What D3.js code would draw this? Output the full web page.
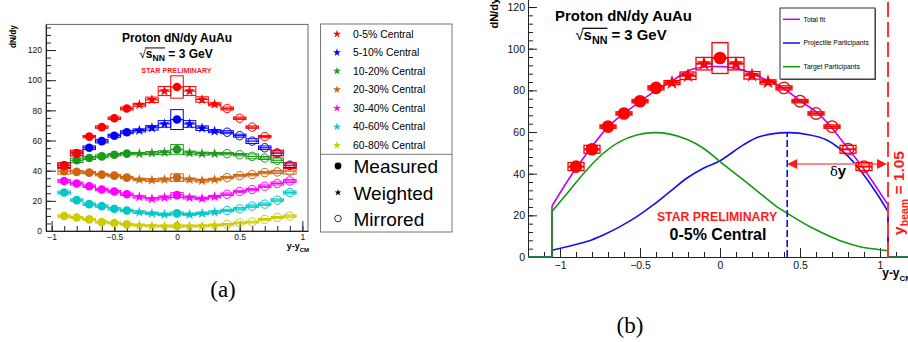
<!DOCTYPE html>
<html>
<head>
<meta charset="utf-8">
<script src="https://cdn.jsdelivr.net/npm/d3@7"></script>
<style>
  body { margin: 0; background: #fff; }
  svg { display: block; font-family: "Liberation Sans", Arial, Helvetica, sans-serif; }
</style>
</head>
<body>
<svg id="chart" width="908" height="342"></svg>
<script>
// ---- data ----
const rapidity = [-0.9, -0.8, -0.7, -0.6, -0.5, -0.4, -0.3, -0.2, -0.1, 0, 0.1, 0.2, 0.3, 0.4, 0.5, 0.6, 0.7, 0.8, 0.9]
// M = measured, W = weighted, R = mirrored
const pointKind = ["M", "M", "M", "M", "M", "M", "W", "W", "W", "M", "W", "W", "W", "R", "R", "R", "R", "R", "R"]
const binHalfWidth = 0.05

const centralityLabels = ["0-5% Central", "5-10% Central", "10-20% Central", "20-30% Central", "30-40% Central", "40-60% Central", "60-80% Central"]

const dndy_0_5   = [43.4, 51.7, 62.6, 68.9, 74.8, 81.2, 83.7, 87.0, 92.8, 95.5, 92.8, 87.2, 84.0, 81.2, 74.8, 68.9, 62.6, 51.7, 43.4]
const dndy_5_10  = [43.6, 51.6, 55.2, 59.6, 63.2, 65.5, 66.7, 68.4, 71.0, 73.9, 71.0, 68.2, 66.2, 65.5, 63.2, 59.6, 55.2, 51.6, 43.6]
const dndy_10_20 = [null, 46.9, 48.4, 49.5, 50.6, 51.3, 51.3, 51.7, 52.0, 54.1, 51.8, 51.3, 51.3, 51.3, 50.6, 49.5, 48.4, 46.9, null]
const dndy_20_30 = [39.7, 39.2, 38.7, 37.4, 36.7, 35.4, 34.1, 33.7, 34.1, 35.4, 34.1, 33.4, 34.1, 35.4, 36.7, 37.4, 38.7, 39.2, 39.7]
const dndy_30_40 = [33.2, 31.5, 29.7, 27.5, 26.2, 24.4, 22.6, 21.3, 22.2, 23.8, 22.2, 21.5, 22.8, 24.4, 26.2, 27.5, 29.7, 31.5, 33.2]
const dndy_40_60 = [25.5, 20.5, 17.8, 16.5, 14.7, 13.6, 12.5, 11.7, 11.0, 11.7, 11.0, 11.7, 12.5, 13.6, 14.7, 16.5, 17.8, 20.5, 25.5]
const dndy_60_80 = [9.9, 9.0, 7.7, 5.9, 5.3, 4.4, 3.8, 3.3, 3.2, 3.3, 3.2, 3.3, 3.8, 4.4, 5.3, 5.9, 7.7, 9.0, 9.9]

// systematic uncertainties (box half heights)
const sys_0_5   = [1.9, 1.9, 0.8, 0.8, 0.8, 1.0, 1.0, 1.8, 3.0, 7.4, 3.0, 1.8, 1.0, 1.0, 0.8, 0.8, 0.8, 1.9, 1.9]
const sys_5_10  = [1.5, 1.5, 1.2, 1.2, 1.0, 1.0, 1.0, 1.5, 2.2, 6.6, 2.2, 1.5, 1.0, 1.0, 1.0, 1.6, 1.2, 1.5, 1.5]
const sys_10_20 = [null, 1.5, 1.0, 1.0, 0.8, 0.8, 0.8, 1.0, 1.2, 3.2, 1.2, 1.0, 0.8, 0.8, 0.8, 1.6, 1.0, 1.5, null]
const sys_20_30 = [2.0, 1.0, 0.8, 0.8, 0.8, 0.8, 0.8, 1.0, 1.0, 2.5, 1.0, 1.0, 0.8, 0.8, 0.8, 0.8, 0.8, 1.0, 2.0]
const sys_30_40 = [1.0, 1.0, 0.8, 0.8, 0.8, 0.8, 0.8, 0.8, 1.0, 1.6, 1.0, 0.8, 0.8, 0.8, 0.8, 0.8, 0.8, 1.0, 1.0]
const sys_40_60 = [1.0, 0.8, 0.8, 0.8, 0.8, 0.8, 0.8, 0.8, 0.8, 1.0, 0.8, 0.8, 0.8, 0.8, 0.8, 0.8, 0.8, 0.8, 1.0]
const sys_60_80 = [0.8, 0.6, 0.6, 0.6, 0.6, 0.6, 0.6, 0.6, 0.6, 0.8, 0.6, 0.6, 0.6, 0.6, 0.6, 0.6, 0.6, 0.6, 0.8]

// fit curves of panel (b), 0-5%
const totalFitY = [-1.05, -0.9375, -0.833, -0.698, -0.594, -0.5, -0.396, -0.29, -0.1875, 0.02, 0.146, 0.29, 0.396, 0.5, 0.604, 0.6875, 0.79, 0.896, 1.05]
const totalFitV = [24.5, 38.3, 49.7, 62.6, 69.3, 74.6, 80.2, 85.0, 89.8, 91.4, 89.6, 85.0, 81.0, 75.0, 69.5, 63.0, 53.0, 42.6, 25.0]
const projFitY = [-1.05, -0.9375, -0.833, -0.729, -0.625, -0.52, -0.417, -0.3125, -0.208, -0.104, 0, 0.146, 0.25, 0.42, 0.5625, 0.667, 0.77, 0.875, 0.979, 1.05]
const projFitV = [3.2, 5.3, 7.4, 10.6, 14.6, 19.4, 25.0, 31.4, 37.8, 42.6, 46.2, 53.8, 57.8, 59.7, 58.6, 56.2, 50.6, 41.8, 30.6, 21.8]
const targFitY = [-1.05, -0.9375, -0.833, -0.729, -0.625, -0.521, -0.417, -0.3125, -0.208, -0.104, 0, 0.146, 0.25, 0.354, 0.42, 0.5625, 0.667, 0.77, 0.875, 0.979, 1.05]
const targFitV = [21.8, 32.2, 41.8, 49.8, 55.4, 58.6, 59.7, 59.0, 56.5, 52.2, 45.8, 37.0, 30.6, 24.2, 21.0, 14.5, 10.6, 7.3, 4.9, 3.7, 3.0]
const fitLabels = ["Total fit", "Projectile Participants", "Target Participants"]

const yBeam = 1.05
const projPeakY = 0.42
const projPeakV = 59.7
const deltaArrowV = 44.6

const yTicksA = [0, 20, 40, 60, 80, 100, 120]
const yTicksB = [0, 20, 40, 60, 80, 100, 120]
const xTicks = [-1, -0.5, 0, 0.5, 1]

// ---- styles ----
const seriesColors = ["#ff0000", "#0000ff", "#1a9a1a", "#cc6611", "#ff00ff", "#00c8c8", "#cccc00"]
const fitColors = ["#c000ff", "#1010ee", "#119911"]
const font = "'Liberation Sans', Arial, Helvetica, sans-serif"

const svg = d3.select("#chart")
const fmt = d3.format("")

const seriesA = [
  { values: dndy_0_5, sys: sys_0_5 },
  { values: dndy_5_10, sys: sys_5_10 },
  { values: dndy_10_20, sys: sys_10_20 },
  { values: dndy_20_30, sys: sys_20_30 },
  { values: dndy_30_40, sys: sys_30_40 },
  { values: dndy_40_60, sys: sys_40_60 },
  { values: dndy_60_80, sys: sys_60_80 }
].map((s, i) => ({ ...s, label: centralityLabels[i], color: seriesColors[i] }))

function starPath(r) {
  return d3.symbol(d3.symbolStar, r * r / 0.8908130915292852)()
}
function circlePath(r) {
  return d3.symbol(d3.symbolCircle, Math.PI * r * r)()
}

function drawAxes(g, x, y, o) {
  const bottom = y.range()[0]
  const left = x.range()[0]
  // minor ticks
  g.append("g").attr("transform", `translate(0,${bottom})`)
    .call(d3.axisBottom(x).tickValues(d3.range(-12, 13).map(d => d / 10).filter(v => v >= x.domain()[0] && v <= x.domain()[1]))
      .tickSize(-o.minor).tickFormat("").tickSizeOuter(0))
    .call(a => a.select(".domain").remove())
  g.append("g").attr("transform", `translate(${left},0)`)
    .call(d3.axisLeft(y).tickValues(d3.range(0, y.domain()[1], o.yMinorStep)).tickSize(-o.minor).tickFormat("").tickSizeOuter(0))
    .call(a => a.select(".domain").remove())
  // major ticks + labels
  const xa = g.append("g").attr("transform", `translate(0,${bottom})`)
    .call(d3.axisBottom(x).tickValues(xTicks).tickFormat(fmt).tickSize(-o.major).tickPadding(o.xPad).tickSizeOuter(0))
  const ya = g.append("g").attr("transform", `translate(${left},0)`)
    .call(d3.axisLeft(y).tickValues(o.yTicks).tickFormat(fmt).tickSize(-o.major).tickPadding(o.yPad).tickSizeOuter(0))
  g.selectAll(".tick line").attr("stroke", "#222")
  g.selectAll(".domain").attr("stroke", "#222")
  xa.selectAll("text").style("font-family", font).style("font-size", o.fontSize + "px").attr("fill", "#111")
  ya.selectAll("text").style("font-family", font).style("font-size", o.fontSize + "px").attr("fill", "#111")
}

function drawSeries(g, x, y, s, sz) {
  const pts = rapidity.map((r, i) => ({ r, v: s.values[i], e: s.sys[i], kind: pointKind[i] })).filter(d => d.v != null)
  const grp = g.append("g")
  grp.selectAll("rect").data(pts).join("rect")
    .attr("x", d => x(d.r - binHalfWidth))
    .attr("width", d => x(d.r + binHalfWidth) - x(d.r - binHalfWidth))
    .attr("y", d => y(d.v + d.e))
    .attr("height", d => y(d.v - d.e) - y(d.v + d.e))
    .style("fill", "none").style("stroke", s.color).style("stroke-width", sz.box)
  grp.selectAll("line").data(pts).join("line")
    .attr("x1", d => x(d.r - binHalfWidth)).attr("x2", d => x(d.r + binHalfWidth))
    .attr("y1", d => y(d.v)).attr("y2", d => y(d.v))
    .style("stroke", s.color).style("stroke-width", sz.line)
  grp.selectAll("path").data(pts).join("path")
    .attr("transform", d => `translate(${x(d.r)},${y(d.v)})`)
    .attr("d", d => d.kind == "W" ? starPath(sz.star) : circlePath(d.kind == "R" ? sz.open : sz.circle))
    .style("fill", d => d.kind == "R" ? "none" : s.color)
    .style("stroke", d => d.kind == "R" ? s.color : "none")
    .style("stroke-width", sz.openStroke)
}

function sqrtLine(g, cx, base, size) {
  const t = g.append("text").attr("x", cx).attr("y", base).attr("text-anchor", "middle")
    .style("font-family", font).style("font-weight", "bold").style("font-size", size + "px").attr("fill", "#000")
  t.append("tspan").style("font-weight", "normal").text("\u221A")
  t.append("tspan").text("s")
  t.append("tspan").attr("dy", size * 0.3).style("font-size", (size * 0.72) + "px").text("NN")
  t.append("tspan").attr("dy", -size * 0.3).text(" = 3 GeV")
  const n = t.node()
  const r = n.getExtentOfChar(0), b = n.getExtentOfChar(3)
  g.append("line")
    .attr("x1", r.x + r.width - 1).attr("x2", b.x + b.width)
    .attr("y1", r.y + size * 0.12).attr("y2", r.y + size * 0.12)
    .style("stroke", "#000").style("stroke-width", size / 12)
}

// ================= panel (a) =================
const xA = d3.scaleLinear().domain([-1.045, 1.045]).range([46, 308])
const yA = d3.scaleLinear().domain([0, 137]).range([231, 24.4])
const gA = svg.append("g")

gA.append("rect").attr("x", 46).attr("y", yA(137)).attr("width", xA(1.045) - xA(-1.045)).attr("height", yA(0) - yA(137))
  .style("fill", "none").style("stroke", "#666").style("stroke-width", 1)
drawAxes(gA, xA, yA, { major: 10, minor: 5, yMinorStep: 5, xPad: 3, yPad: 4, fontSize: 8.5, yTicks: yTicksA })

const sizeA = { circle: 4.3, star: 5.6, open: 4.2, openStroke: 1, line: 1.2, box: 1 }
seriesA.slice().reverse().forEach(s => drawSeries(gA, xA, yA, s, sizeA))

gA.append("text").attr("x", 177).attr("y", 41.5).attr("text-anchor", "middle")
  .style("font-family", font).style("font-weight", "bold").style("font-size", "12px").text("Proton dN/dy AuAu")
sqrtLine(gA, 176, 57.5, 12)
gA.append("text").attr("x", 176.5).attr("y", 72.5).attr("text-anchor", "middle").attr("fill", "#ff1a1a")
  .style("font-family", font).style("font-weight", "bold").style("font-size", "7.2px").text("STAR PRELIMINARY")

gA.append("text").attr("transform", "translate(15.5,25) rotate(-90)").attr("text-anchor", "end")
  .style("font-family", font).style("font-weight", "bold").style("font-size", "8.3px").text("dN/dy")
const xlabA = gA.append("text").attr("x", 309).attr("y", 249).attr("text-anchor", "end")
  .style("font-family", font).style("font-weight", "bold").style("font-size", "9px")
xlabA.append("tspan").text("y-y")
xlabA.append("tspan").attr("dy", 2.5).style("font-size", "6px").text("CM")

// legend (a)
const legA = gA.append("g")
legA.append("rect").attr("x", 320.5).attr("y", 24).attr("width", 131.5).attr("height", 208)
  .style("fill", "#fff").style("stroke", "#777")
legA.append("line").attr("x1", 320.5).attr("x2", 452).attr("y1", 154.3).attr("y2", 154.3).style("stroke", "#777")
seriesA.forEach((s, i) => {
  const cy = 34 + i * 18.55
  legA.append("path").attr("transform", `translate(337,${cy})`).attr("d", starPath(4.2)).style("fill", s.color)
  legA.append("text").attr("x", 353).attr("y", cy + 3.7).style("font-family", font).style("font-size", "10.4px").text(s.label)
})
const kindLegend = [
  { label: "Measured", kind: "M", cy: 166 },
  { label: "Weighted", kind: "W", cy: 192.5 },
  { label: "Mirrored", kind: "R", cy: 218.5 }
]
kindLegend.forEach(k => {
  legA.append("path").attr("transform", `translate(338,${k.cy})`)
    .attr("d", k.kind == "W" ? starPath(3.6) : circlePath(k.kind == "R" ? 3.3 : 3.4))
    .style("fill", k.kind == "R" ? "none" : "#000").style("stroke", k.kind == "R" ? "#000" : "none").style("stroke-width", 0.8)
  legA.append("text").attr("x", 353.5).attr("y", k.cy + 7).style("font-family", font).style("font-size", "19px").text(k.label)
})

// ================= panel (b) =================
const xB = d3.scaleLinear().domain([-1.2, 1.2]).range([528, 912])
const yB = d3.scaleLinear().domain([0, 125]).range([257, -3.4])
const gB = svg.append("g")

drawAxes(gB, xB, yB, { major: 9, minor: 5, yMinorStep: 4, xPad: 4.5, yPad: 3, fontSize: 10.5, yTicks: yTicksB })

// fits
const smooth = d3.line().x(d => xB(d[0])).y(d => yB(d[1])).curve(d3.curveCatmullRom.alpha(0.5))
const straight = d3.line().x(d => xB(d[0])).y(d => yB(d[1]))
const fits = [
  [totalFitY, totalFitV],
  [projFitY, projFitV],
  [targFitY, targFitV]
]
fits.forEach(([ys, vs], i) => {
  const pts = ys.map((y, j) => [y, vs[j]])
  const lo = xB.domain()[0], hi = xB.domain()[1]
  gB.append("path").attr("d", straight([[lo, 0], [ys[0], 0], pts[0]]))
    .style("fill", "none").style("stroke", fitColors[i]).style("stroke-width", 1.6)
  gB.append("path").attr("d", straight([pts[pts.length - 1], [ys[ys.length - 1], 0], [hi, 0]]))
    .style("fill", "none").style("stroke", fitColors[i]).style("stroke-width", 1.6)
  gB.append("path").attr("d", smooth(pts))
    .style("fill", "none").style("stroke", fitColors[i]).style("stroke-width", 1.6)
})

// peak marker and delta-y arrow
gB.append("line").attr("x1", xB(projPeakY)).attr("x2", xB(projPeakY)).attr("y1", yB(0)).attr("y2", yB(projPeakV))
  .style("stroke", "#1010ee").style("stroke-width", 1.6).style("stroke-dasharray", "7,3")
const ay = yB(deltaArrowV)
gB.append("line").attr("x1", xB(projPeakY) + 6).attr("x2", xB(yBeam) - 6).attr("y1", ay).attr("y2", ay)
  .style("stroke", "#ff8888").style("stroke-width", 2)
gB.append("path").attr("d", `M${xB(projPeakY)},${ay}l10,-5v10z`).style("fill", "#ff1a1a")
gB.append("path").attr("d", `M${xB(yBeam) - 1},${ay}l-10,-5v10z`).style("fill", "#ff1a1a")
const dy = gB.append("text").attr("x", 838).attr("y", 176).attr("text-anchor", "middle").style("font-size", "15px")
dy.append("tspan").style("font-family", "'DejaVu Serif', serif").style("font-size", "13px").text("\u03B4")
dy.append("tspan").style("font-family", font).style("font-weight", "bold").text("y")

// data 0-5%
const sizeB = { circle: 6.3, star: 7.8, open: 5.8, openStroke: 1.3, line: 2, box: 1.3 }
drawSeries(gB, xB, yB, seriesA[0], sizeB)

// beam rapidity
gB.append("line").attr("x1", xB(yBeam)).attr("x2", xB(yBeam)).attr("y1", yB(0)).attr("y2", 0)
  .style("stroke", "#ff3333").style("stroke-width", 2).style("stroke-dasharray", "15,5")
const beamT = gB.append("text").attr("transform", "translate(904,151) rotate(-90)").attr("text-anchor", "end")
  .attr("fill", "#ff1a1a").style("font-family", font).style("font-weight", "bold").style("font-size", "15.5px")
beamT.append("tspan").text("y")
beamT.append("tspan").attr("dy", 4).style("font-size", "10.5px").text("beam")
beamT.append("tspan").attr("dy", -4).text(" = 1.05")

gB.append("text").attr("x", 623.5).attr("y", 21).attr("text-anchor", "middle")
  .style("font-family", font).style("font-weight", "bold").style("font-size", "14.9px").text("Proton dN/dy AuAu")
sqrtLine(gB, 621, 39.5, 14.9)
gB.append("text").attr("x", 717).attr("y", 221).attr("text-anchor", "middle").attr("fill", "#ff1a1a")
  .style("font-family", font).style("font-weight", "bold").style("font-size", "12.3px").text("STAR PRELIMINARY")
gB.append("text").attr("x", 718).attr("y", 239.5).attr("text-anchor", "middle")
  .style("font-family", font).style("font-weight", "bold").style("font-size", "16px").text("0-5% Central")

gB.append("text").attr("transform", "translate(497.5,-2) rotate(-90)").attr("text-anchor", "end")
  .style("font-family", font).style("font-weight", "bold").style("font-size", "11px").text("dN/dy")
const xlabB = gB.append("text").attr("x", 912).attr("y", 277).attr("text-anchor", "end")
  .style("font-family", font).style("font-weight", "bold").style("font-size", "12px")
xlabB.append("tspan").text("y-y")
xlabB.append("tspan").attr("dy", 3.5).style("font-size", "8px").text("CM")

// legend (b)
const legB = gB.append("g")
legB.append("rect").attr("x", 781).attr("y", 9).attr("width", 95).attr("height", 71).style("fill", "#555")
legB.append("rect").attr("x", 780).attr("y", 8).attr("width", 95).attr("height", 71).style("fill", "#fff").style("stroke", "#333")
fitLabels.forEach((l, i) => {
  const cy = 19.3 + i * 23.7
  legB.append("line").attr("x1", 783).attr("x2", 800).attr("y1", cy).attr("y2", cy).style("stroke", fitColors[i]).style("stroke-width", 1.5)
  legB.append("text").attr("x", 803.5).attr("y", cy + 2.4).style("font-family", font).style("font-size", "6.8px").text(l)
})

// panel tags
svg.append("text").attr("x", 223).attr("y", 297).attr("text-anchor", "middle")
  .style("font-family", "'Liberation Serif', 'DejaVu Serif', serif").style("font-size", "23px").text("(a)")
svg.append("text").attr("x", 630).attr("y", 333).attr("text-anchor", "middle")
  .style("font-family", "'Liberation Serif', 'DejaVu Serif', serif").style("font-size", "23px").text("(b)")
</script>
</body>
</html>
